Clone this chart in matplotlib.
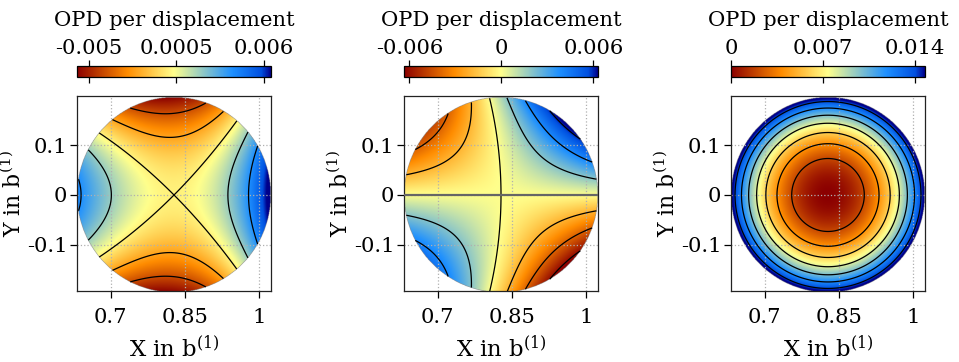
import numpy as np
import matplotlib
matplotlib.use("Agg")
import matplotlib.pyplot as plt
from matplotlib.colors import LinearSegmentedColormap

# ---------------- data ----------------
x_center = 0.828          # pupil centre (X in b^(1))
y_center = 0.0
radius = 0.196            # pupil radius
x_lim = (0.632, 1.024)
y_lim = (-0.193, 0.199)
x_ticks = [0.7, 0.85, 1.0]
x_ticklabels = ["0.7", "0.85", "1"]
y_ticks = [-0.1, 0.0, 0.1]
y_ticklabels = ["-0.1", "0", "0.1"]

cb_range_1 = (-0.00575, 0.00644)
cb_range_2 = (-0.00635, 0.0063)
cb_range_3 = (0.0, 0.01476)
cb_ticks_1 = [-0.005, 0.0005, 0.006]
cb_ticks_2 = [-0.006, 0.0, 0.006]
cb_ticks_3 = [0.0, 0.007, 0.014]
cb_labels_1 = ["-0.005", "0.0005", "0.006"]
cb_labels_2 = ["-0.006", "0", "0.006"]
cb_labels_3 = ["0", "0.007", "0.014"]

levels_1 = [-0.004, -0.002, 0.0, 0.002, 0.004]
levels_2 = [-0.006, -0.004, -0.002, 0.0, 0.002, 0.004, 0.006]
levels_3 = [0.002, 0.004, 0.006, 0.008, 0.010, 0.012, 0.014]

# surface coefficients in normalised pupil coordinates (u, v = offset / radius)
astig_u2 = 0.0057     # panel 1: u^2 term
astig_v2 = 0.0057     # panel 1: v^2 term
coma_u = 0.0014       # panel 1: u r^2 term
twist_uv = 0.0112     # panel 2: u v term
coma_v = 0.00132      # panel 2: v r^2 term
defocus = 0.01412     # panel 3: r^2 term
defocus_r4 = 0.00122  # panel 3: r^4 term

palette_colors = ["#8B0000", "#FF8C00", "#FFFF8C", "#1E90FF", "#0050E0", "#00008B"]
palette_stops = [0.0, 0.26, 0.5, 0.8, 0.95, 1.0]

label_cb = "OPD per displacement"
label_x = r"X in b$^{(1)}$"
label_y = r"Y in b$^{(1)}$"

# ---------------- styling ----------------
plt.rcParams["font.family"] = "DejaVu Serif"
plt.rcParams["mathtext.fontset"] = "dejavuserif"
plt.rcParams["font.size"] = 15.2

cmap = LinearSegmentedColormap.from_list("opd", list(zip(palette_stops, palette_colors)), N=512)

n = 500
xs = np.linspace(x_center - radius, x_center + radius, n)
ys = np.linspace(y_center - radius, y_center + radius, n)
X, Y = np.meshgrid(xs, ys)
U = (X - x_center) / radius
V = (Y - y_center) / radius
R2 = U ** 2 + V ** 2
outside = R2 > 1.0

F1 = astig_u2 * U ** 2 - astig_v2 * V ** 2 + coma_u * U * R2
F2 = twist_uv * U * V + coma_v * V * R2
F3 = defocus * R2 + defocus_r4 * R2 ** 2

fields = [F1, F2, F3]
ranges = [cb_range_1, cb_range_2, cb_range_3]
cticks = [cb_ticks_1, cb_ticks_2, cb_ticks_3]
clabels = [cb_labels_1, cb_labels_2, cb_labels_3]
levels = [levels_1, levels_2, levels_3]

fig = plt.figure(figsize=(9.59, 3.62), dpi=100)
lefts = [77 / 959, 404 / 959, 731 / 959]
w = 194 / 959
ax_bottom = (362 - 291) / 362
ax_h = 195 / 362
cb_bottom = (362 - 77) / 362
cb_h = 11 / 362

axes = []
for i in range(3):
    ax = fig.add_axes([lefts[i], ax_bottom, w, ax_h])
    axes.append(ax)
    F = np.ma.masked_where(outside, fields[i])
    vmin, vmax = ranges[i]
    im = ax.imshow(F, origin="lower", cmap=cmap, vmin=vmin, vmax=vmax,
                   extent=[xs[0], xs[-1], ys[0], ys[-1]],
                   interpolation="bilinear", aspect="auto")
    ax.contour(X, Y, F, levels=levels[i], colors="k", linewidths=0.9,
               linestyles="solid")
    if i == 1:
        ax.axhline(0.0, color="#666666", lw=1.6, zorder=3)
    ax.set_xlim(*x_lim)
    ax.set_ylim(*y_lim)
    ax.set_xticks(x_ticks)
    ax.set_xticklabels(x_ticklabels)
    ax.set_yticks(y_ticks)
    ax.set_yticklabels(y_ticklabels)
    ax.tick_params(direction="out", length=5, width=0.9)
    ax.tick_params(axis="y", pad=2)
    ax.tick_params(axis="x", pad=7.5)
    ax.yaxis.get_major_ticks()[1].tick1line.set_color("#888888")
    ax.grid(True, linestyle=":", color="#b0b0b0", linewidth=0.9)
    for sp in ax.spines.values():
        sp.set_linewidth(0.9)
        sp.set_color("#222222")
    ax.set_xlabel(label_x, labelpad=6, fontsize=16.4)
    ax.set_ylabel(label_y, fontsize=15.8)

    cax = fig.add_axes([lefts[i], cb_bottom, w, cb_h])
    cb = fig.colorbar(im, cax=cax, orientation="horizontal")
    cb.set_ticks(cticks[i])
    cb.set_ticklabels(clabels[i])
    cax.tick_params(axis="x", top=True, bottom=True, labeltop=True,
                    labelbottom=False, direction="out", length=4.5,
                    width=0.9, pad=1.5)
    cb.outline.set_linewidth(0.9)
    cax.xaxis.set_label_position("top")
    cax.set_xlabel(label_cb, labelpad=9)

# place each y label just left of its tick labels (no overlap)
fig.canvas.draw()
renderer = fig.canvas.get_renderer()
for ax in axes:
    bb_ax = ax.get_window_extent(renderer)
    left_px = min(t.get_window_extent(renderer).x0 for t in ax.get_yticklabels())
    ax.yaxis.set_label_coords((left_px - 1.5 - bb_ax.x0) / bb_ax.width, 0.5)
fig.canvas.draw()
for ax in axes:
    bb_ax = ax.get_window_extent(renderer)
    left_px = min(t.get_window_extent(renderer).x0 for t in ax.get_yticklabels())
    lab = ax.yaxis.label
    lab_bb = lab.get_window_extent(renderer)
    shift = (left_px - 1.5) - lab_bb.x1
    coords = lab.get_transform().transform(lab.get_position())
    ax.yaxis.set_label_coords((coords[0] + shift - bb_ax.x0) / bb_ax.width, 0.5)

fig.savefig("out.png", dpi=100)
